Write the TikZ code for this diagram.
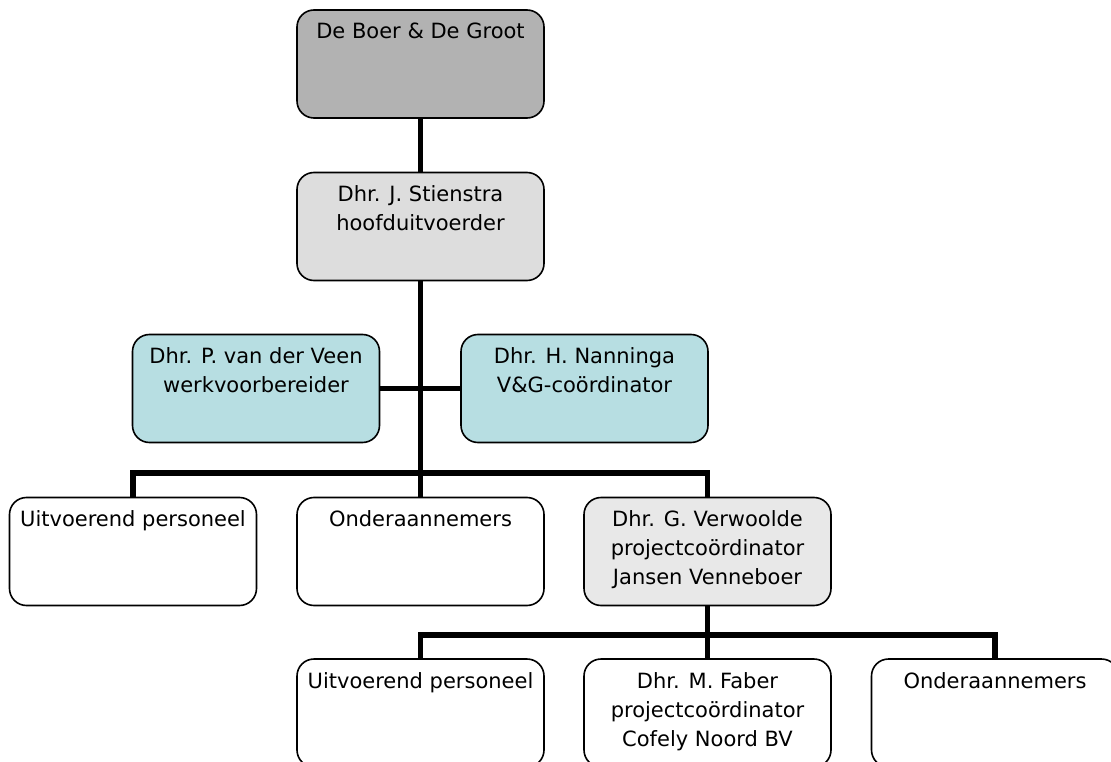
\documentclass[tikz,border=0pt]{standalone}
\usepackage{fontspec}
\setmainfont{DejaVu Sans}
\definecolor{topgray}{RGB}{178,178,178}
\definecolor{lightgray2}{RGB}{221,221,221}
\definecolor{paleteal}{RGB}{183,222,226}
\definecolor{palegray}{RGB}{232,232,232}
\tikzset{
  orgbox/.style={draw=black, line width=1.6pt, rounded corners=17pt, rectangle,
    minimum width=247pt, minimum height=108pt, inner sep=0pt},
  orgtext/.style={anchor=north, align=center, inner sep=0pt,
    font=\fontsize{21}{29}\selectfont},
  conn/.style={line width=5.5pt, draw=black}
}
\begin{document}
\begin{tikzpicture}[x=1pt,y=-1pt]
\clip (0,0) rectangle (1111,762);
\fill[white] (0,0) rectangle (1111,762);
% boxes
\node[orgbox, fill=topgray] (top) at (420.5,64) {};
\node[orgbox, fill=lightgray2] (stien) at (420.5,226.5) {};
\node[orgbox, fill=paleteal] (veen) at (256,388.5) {};
\node[orgbox, fill=paleteal] (nann) at (584.5,388.5) {};
\node[orgbox, fill=white] (r2a) at (133,551.5) {};
\node[orgbox, fill=white] (r2b) at (420.5,551.5) {};
\node[orgbox, fill=palegray] (r2c) at (707.5,551.5) {};
\node[orgbox, fill=white] (r3a) at (420.5,713) {};
\node[orgbox, fill=white] (r3b) at (707.5,713) {};
\node[orgbox, fill=white] (r3c) at (995,713) {};
% texts
\node[orgtext] (ttop) at ([yshift=-14pt]top.north) {De Boer \& De Groot};
\node[orgtext] (tstien) at ([yshift=-14pt]stien.north) {Dhr. J. Stienstra\\hoofduitvoerder};
\node[orgtext] (tveen) at ([yshift=-14pt]veen.north) {Dhr. P. van der Veen\\werkvoorbereider};
\node[orgtext] (tnann) at ([yshift=-14pt]nann.north) {Dhr. H. Nanninga\\V\&G-coördinator};
\node[orgtext] (tr2a) at ([yshift=-14pt]r2a.north) {Uitvoerend personeel};
\node[orgtext] (tr2b) at ([yshift=-14pt]r2b.north) {Onderaannemers};
\node[orgtext] (tr2c) at ([yshift=-14pt]r2c.north) {Dhr. G. Verwoolde\\projectcoördinator\\Jansen Venneboer};
\node[orgtext] (tr3a) at ([yshift=-14pt]r3a.north) {Uitvoerend personeel};
\node[orgtext] (tr3b) at ([yshift=-14pt]r3b.north) {Dhr. M. Faber\\projectcoördinator\\Cofely Noord BV};
\node[orgtext] (tr3c) at ([yshift=-14pt]r3c.north) {Onderaannemers};
% connectors
\coordinate (bus1) at (420.5,473);
\coordinate (bus2) at (707.5,635);
\draw[conn] (top.south) -- (stien.north);
\draw[conn] (stien.south) -- (r2b.north);
\draw[conn] (veen.east) -- (nann.west);
\draw[conn] (r2a.north) |- (bus1) -| (r2c.north);
\draw[conn] (r2c.south) -- (r3b.north);
\draw[conn] (r3a.north) |- (bus2) -| (r3c.north);
\end{tikzpicture}
\end{document}
